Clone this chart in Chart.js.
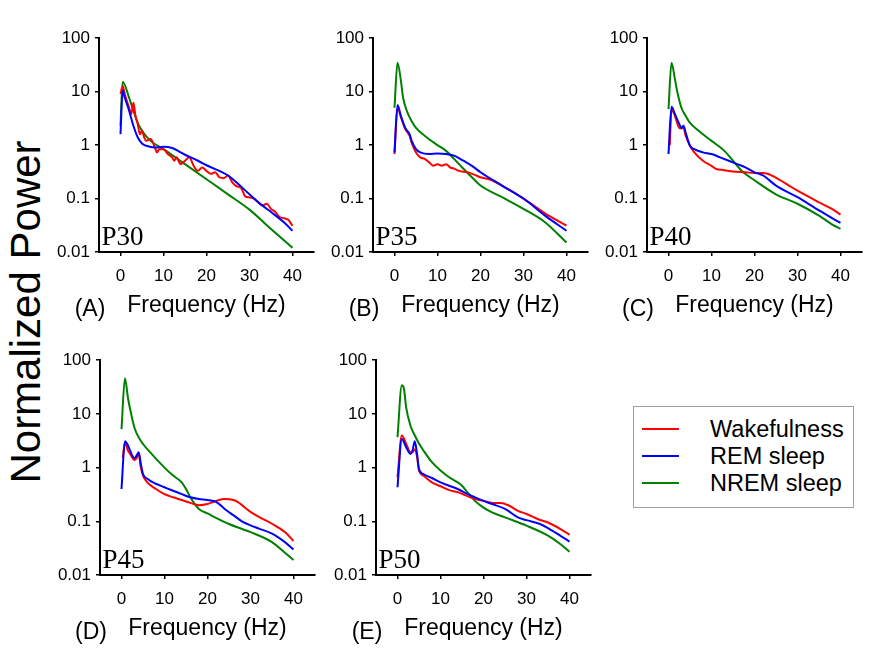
<!DOCTYPE html>
<html><head><meta charset="utf-8">
<script src="https://cdn.jsdelivr.net/npm/chart.js@4"></script>
<style>
body{margin:0;background:#fff;width:880px;height:654px;position:relative;overflow:hidden;font-family:"Liberation Sans",Arial,sans-serif;}
canvas{position:absolute;}
#ylab{position:absolute;left:26px;top:312px;transform:translate(-50%,-50%) rotate(-90deg);font-size:42px;white-space:nowrap;color:#000;}
#legend{position:absolute;left:633px;top:406px;width:219px;height:100px;border:1px solid #a0a0a0;background:#fff;}
.lrow{position:absolute;left:0;height:0;}
.lline{position:absolute;left:8px;width:37px;height:2px;top:-1px;}
.ltxt{position:absolute;left:76px;top:-14px;font-size:23.5px;line-height:28px;white-space:nowrap;color:#000;}
</style></head>
<body>
<div id="ylab">Normalized Power</div>
<div id="legend">
  <div class="lrow" style="top:22px"><div class="lline" style="background:#ff0000"></div><div class="ltxt">Wakefulness</div></div>
  <div class="lrow" style="top:49px"><div class="lline" style="background:#0000ff"></div><div class="ltxt">REM sleep</div></div>
  <div class="lrow" style="top:76px"><div class="lline" style="background:#008000"></div><div class="ltxt">NREM sleep</div></div>
</div>
<script>
// ---------- data (frequency in Hz, normalized power) ----------
const seriesNames = ['Wakefulness', 'REM sleep', 'NREM sleep'];
const xTicks = [0, 10, 20, 30, 40];
const yTicks = [0.01, 0.1, 1, 10, 100];

// P30 (A)
const A_wake_f = [0, 0.5, 1, 2, 2.5, 3, 3.5, 4, 4.5, 5, 5.5, 6, 7, 8, 8.5, 9, 10, 11, 12, 12.5, 13, 14, 15, 16, 17, 18, 19, 20, 21, 22, 23, 24, 25, 26, 27, 28, 29, 30, 31, 32, 33, 34, 35, 36, 37, 38, 39, 40];
const A_wake_p = [9, 12.7, 8.9, 5, 3.8, 6.2, 3.5, 2.5, 1.6, 1.85, 1.4, 1.2, 1.3, 0.9, 0.73, 0.84, 0.84, 0.68, 0.59, 0.51, 0.59, 0.44, 0.51, 0.59, 0.41, 0.33, 0.38, 0.33, 0.29, 0.31, 0.25, 0.24, 0.27, 0.2, 0.17, 0.16, 0.11, 0.105, 0.1, 0.085, 0.074, 0.08, 0.064, 0.056, 0.045, 0.043, 0.04, 0.031];
const A_rem_f = [0, 0.5, 1, 2, 3, 4, 5, 6, 8, 10, 12, 15, 18, 20, 25, 27, 30, 33, 35, 38, 40];
const A_rem_p = [1.6, 10.5, 7.7, 4.4, 2.3, 1.4, 1.07, 0.97, 0.9, 0.93, 0.88, 0.66, 0.51, 0.42, 0.27, 0.2, 0.12, 0.074, 0.056, 0.036, 0.025];
const A_nrem_f = [0, 0.5, 2, 3, 4, 5, 7, 10, 15, 20, 25, 30, 35, 40];
const A_nrem_p = [2.3, 15.4, 7.7, 4.4, 2.6, 1.85, 1.2, 0.84, 0.44, 0.23, 0.12, 0.062, 0.027, 0.012];

// P35 (B)
const B_wake_f = [0, 0.7, 1.5, 2.5, 3.5, 4, 5, 6, 7, 8, 9, 10, 11, 12, 13, 14, 15, 17, 19, 20, 22, 25, 30, 35, 40];
const B_wake_p = [0.68, 5.0, 3.3, 2.0, 1.5, 1.1, 0.73, 0.59, 0.55, 0.48, 0.41, 0.44, 0.41, 0.44, 0.38, 0.36, 0.33, 0.31, 0.27, 0.25, 0.23, 0.175, 0.1, 0.053, 0.031];
const B_rem_f = [0, 0.7, 1.5, 2.5, 3.5, 4, 5, 6, 8, 10, 12, 14, 16, 18, 20, 25, 30, 35, 40];
const B_rem_p = [0.73, 5.6, 3.5, 2.1, 1.6, 1.2, 0.84, 0.73, 0.68, 0.7, 0.68, 0.63, 0.51, 0.41, 0.31, 0.175, 0.1, 0.048, 0.025];
const B_nrem_f = [0, 0.7, 1.5, 2, 3, 4, 5, 7, 10, 12, 15, 18, 20, 25, 30, 35, 40];
const B_nrem_p = [5.0, 34.7, 15.8, 7.7, 4.1, 2.8, 2.1, 1.5, 1.0, 0.78, 0.44, 0.25, 0.175, 0.106, 0.064, 0.036, 0.015];

// P40 (C)
const C_wake_f = [0.3, 0.7, 1.5, 2.5, 3, 3.5, 4, 5, 6, 8, 10, 11, 13, 15, 18, 20, 22, 24, 26, 28, 30, 35, 38, 40];
const C_wake_p = [1.0, 4.7, 3.5, 2.1, 2.05, 2.1, 1.5, 0.97, 0.73, 0.51, 0.41, 0.36, 0.34, 0.32, 0.31, 0.30, 0.30, 0.27, 0.22, 0.175, 0.14, 0.085, 0.064, 0.05];
const C_rem_f = [0, 0.7, 1.5, 2.5, 3, 3.5, 4, 5, 6, 8, 10, 12, 14, 16, 18, 20, 22, 25, 30, 35, 40];
const C_rem_p = [0.68, 5.2, 3.8, 2.5, 2.1, 2.3, 1.7, 0.97, 0.84, 0.73, 0.68, 0.59, 0.51, 0.44, 0.38, 0.31, 0.27, 0.175, 0.106, 0.06, 0.035];
const C_nrem_f = [0, 0.7, 1.5, 2, 3, 4, 5, 7, 10, 13, 15, 17, 20, 25, 30, 35, 38, 40];
const C_nrem_p = [4.7, 34.7, 17, 10.3, 5.0, 3.5, 2.6, 1.85, 1.2, 0.78, 0.51, 0.33, 0.22, 0.12, 0.08, 0.048, 0.033, 0.027];

// P45 (D)
const D_wake_f = [0.3, 0.8, 1.5, 2, 3, 3.5, 4, 4.5, 5, 6, 8, 10, 12, 14, 16, 18, 20, 22, 24, 26, 27, 28, 30, 32, 35, 38, 40];
const D_wake_p = [1.5, 2.95, 2.07, 1.8, 1.39, 1.5, 1.8, 1.0, 0.71, 0.53, 0.4, 0.32, 0.28, 0.25, 0.22, 0.2, 0.21, 0.24, 0.26, 0.25, 0.23, 0.2, 0.15, 0.12, 0.09, 0.063, 0.043];
const D_rem_f = [0, 0.8, 1.5, 2, 3, 3.5, 4, 4.5, 5, 6, 8, 10, 12, 14, 16, 18, 20, 22, 24, 26, 28, 30, 32, 35, 38, 40];
const D_rem_p = [0.4, 3.1, 2.6, 2.07, 1.5, 1.67, 1.93, 1.17, 0.76, 0.62, 0.5, 0.43, 0.37, 0.32, 0.28, 0.26, 0.25, 0.23, 0.17, 0.13, 0.1, 0.084, 0.073, 0.059, 0.041, 0.03];
const D_nrem_f = [0, 0.8, 1.5, 2, 3, 4, 5, 7, 10, 12, 14, 15, 16, 18, 20, 25, 30, 35, 38, 40];
const D_nrem_p = [5.2, 46, 20, 12.3, 5.6, 3.65, 2.75, 1.8, 1.0, 0.71, 0.53, 0.40, 0.28, 0.17, 0.14, 0.089, 0.063, 0.041, 0.026, 0.019];

// P50 (E)
const E_wake_f = [0, 1, 2, 3, 3.5, 4, 4.5, 5, 6, 8, 10, 12, 14, 16, 18, 20, 22, 24, 26, 28, 30, 33, 35, 38, 40];
const E_wake_p = [0.66, 3.96, 2.8, 1.93, 1.93, 2.2, 1.67, 0.88, 0.71, 0.53, 0.45, 0.38, 0.35, 0.3, 0.26, 0.24, 0.22, 0.22, 0.195, 0.157, 0.137, 0.107, 0.095, 0.071, 0.056];
const E_rem_f = [0, 1, 2, 3, 3.5, 4, 4.5, 5, 6, 8, 10, 12, 14, 16, 18, 20, 22, 25, 28, 30, 33, 35, 38, 40];
const E_rem_p = [0.43, 3.4, 2.4, 1.8, 2.1, 3.1, 1.93, 0.94, 0.76, 0.64, 0.53, 0.46, 0.4, 0.33, 0.28, 0.24, 0.21, 0.17, 0.118, 0.105, 0.09, 0.075, 0.053, 0.042];
const E_nrem_f = [0, 1, 1.5, 2, 3, 4, 5, 6, 8, 10, 12, 14, 15, 16, 18, 20, 22, 25, 30, 35, 38, 40];
const E_nrem_p = [3.7, 34, 29.5, 13.4, 6.1, 4.0, 2.8, 2.1, 1.26, 0.88, 0.66, 0.53, 0.46, 0.37, 0.24, 0.18, 0.147, 0.118, 0.083, 0.054, 0.037, 0.027];

const panelAges = ['P30', 'P35', 'P40', 'P45', 'P50'];
const panelLetters = ['(A)', '(B)', '(C)', '(D)', '(E)'];

// ---------- rendering ----------
const colors = ['#ff0000', '#0000ff', '#008000'];
const panels = [
  {area:{left:99, right:314, top:37, bottom:252}, f:[A_wake_f, A_rem_f, A_nrem_f], p:[A_wake_p, A_rem_p, A_nrem_p]},
  {area:{left:373, right:588, top:37, bottom:252}, f:[B_wake_f, B_rem_f, B_nrem_f], p:[B_wake_p, B_rem_p, B_nrem_p]},
  {area:{left:647, right:862, top:37, bottom:252}, f:[C_wake_f, C_rem_f, C_nrem_f], p:[C_wake_p, C_rem_p, C_nrem_p]},
  {area:{left:100, right:315, top:359, bottom:575}, f:[D_wake_f, D_rem_f, D_nrem_f], p:[D_wake_p, D_rem_p, D_nrem_p]},
  {area:{left:376, right:591, top:359, bottom:575}, f:[E_wake_f, E_rem_f, E_nrem_f], p:[E_wake_p, E_rem_p, E_nrem_p]}
];

const panelText = {
  id: 'panelText',
  afterDraw(chart, args, opts) {
    const {ctx, chartArea: a} = chart;
    ctx.save();
    ctx.fillStyle = '#000';
    ctx.font = '27px "Liberation Serif"';
    ctx.textAlign = 'left';
    ctx.textBaseline = 'alphabetic';
    ctx.fillText(opts.age, a.left + 2.5, a.bottom - 7);
    ctx.font = '23px "Liberation Sans"';
    ctx.textAlign = 'center';
    ctx.textBaseline = 'middle';
    ctx.fillText(opts.letter, a.left - 9, a.bottom + 58);
    ctx.restore();
  }
};

const yW = 80, padT = 14, padR = 12, xH = 80;
panels.forEach((pn, i) => {
  const a = pn.area;
  const w = yW + (a.right - a.left) + padR;
  const h = padT + (a.bottom - a.top) + xH;
  const c = document.createElement('canvas');
  c.width = w; c.height = h;
  c.style.width = w + 'px'; c.style.height = h + 'px';
  c.style.left = (a.left - yW) + 'px';
  c.style.top = (a.top - padT) + 'px';
  document.body.appendChild(c);
  const datasets = seriesNames.map((name, k) => ({
    label: name,
    data: pn.f[k].map((fx, j) => ({x: fx, y: pn.p[k][j]})),
    borderColor: colors[k],
    backgroundColor: colors[k],
    borderWidth: 2,
    pointRadius: 0,
    cubicInterpolationMode: 'monotone',
    fill: false,
    order: k === 0 ? 1 : (k === 1 ? 0 : 2)
  }));
  new Chart(c, {
    type: 'line',
    data: {datasets},
    plugins: [panelText],
    options: {
      responsive: false,
      animation: false,
      devicePixelRatio: 1,
      layout: {padding: {left: 0, top: padT, right: padR, bottom: 0}},
      plugins: {
        legend: {display: false},
        tooltip: {enabled: false},
        panelText: {age: panelAges[i], letter: panelLetters[i]}
      },
      scales: {
        x: {
          type: 'linear', min: -5, max: 45,
          afterBuildTicks: s => { s.ticks = xTicks.map(v => ({value: v})); },
          afterFit: s => { s.height = xH; },
          grid: {display: true, drawOnChartArea: false, drawTicks: true, tickLength: 4, color: '#000', lineWidth: 1.5},
          border: {display: true, color: '#000', width: 2},
          ticks: {color: '#000', font: {family: 'Liberation Sans', size: 17}, padding: 10, maxRotation: 0, callback: v => String(v)},
          title: {display: true, text: 'Frequency (Hz)', color: '#000', font: {family: 'Liberation Sans', size: 23}, padding: {top: 0, bottom: 13}}
        },
        y: {
          type: 'logarithmic', min: 0.01, max: 100,
          afterBuildTicks: s => { s.ticks = yTicks.map(v => ({value: v})); },
          afterFit: s => { s.width = yW; },
          grid: {display: true, drawOnChartArea: false, drawTicks: true, tickLength: 4, color: '#000', lineWidth: 1.5},
          border: {display: true, color: '#000', width: 2},
          ticks: {color: '#000', font: {family: 'Liberation Sans', size: 17}, padding: 5, callback: v => String(v)}
        }
      }
    }
  });
});
</script>
</body></html>
